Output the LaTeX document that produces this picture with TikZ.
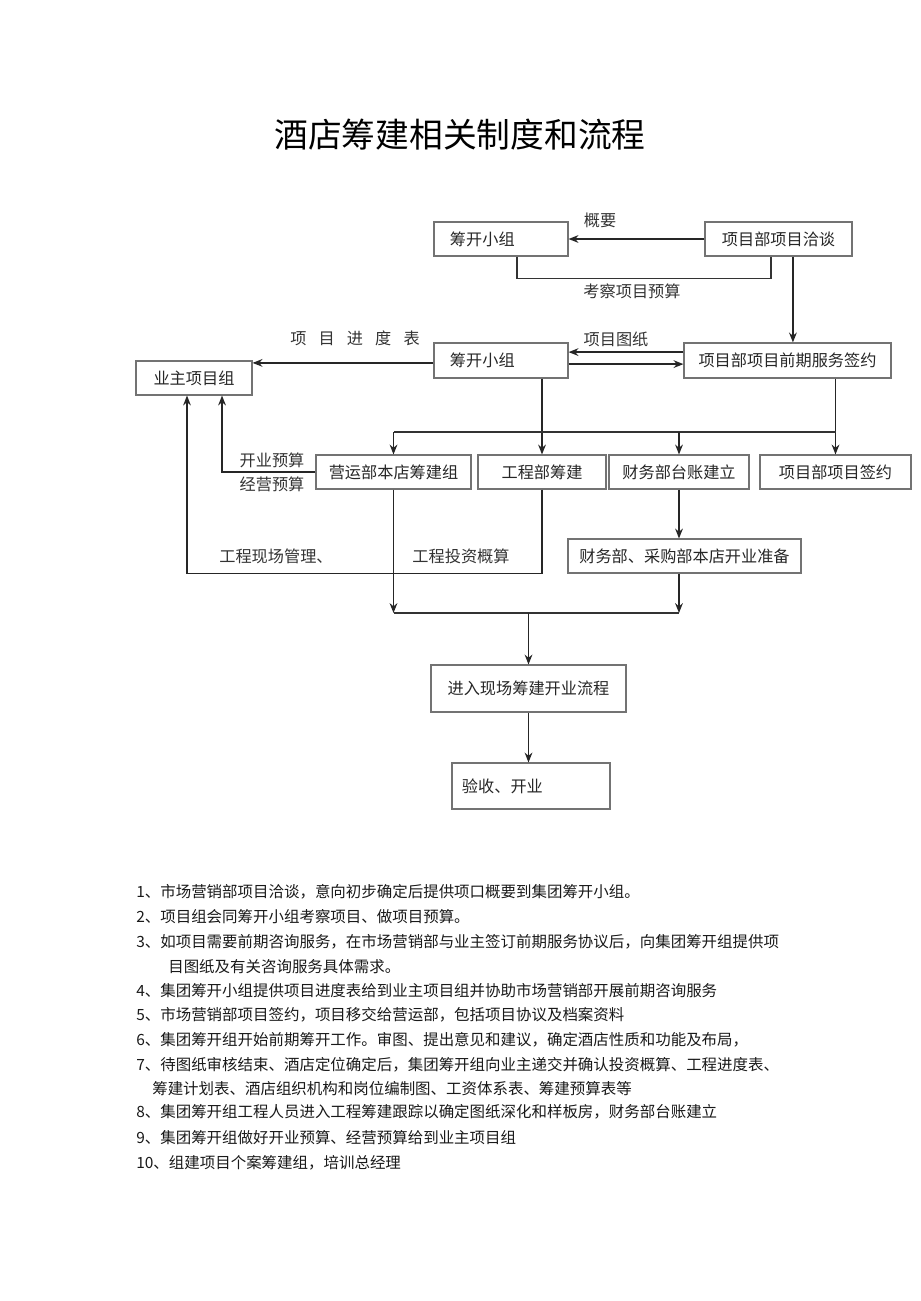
\documentclass[tikz,border=0pt]{standalone}
\usepackage{fontspec}
\newfontfamily\cjk{Noto Sans CJK SC}
\usetikzlibrary{arrows.meta}

\tikzset{
  box/.style={draw=black!55, line width=0.8pt, minimum height=0.85cm, inner sep=0pt,
    text=black!85, font=\cjk\fontsize{11.5}{14}\selectfont},
  lbox/.style={box, align=left, inner xsep=#1},
  arr/.style={-{Stealth[length=7pt,width=5.5pt]}, line width=1.1pt, black!85},
  link/.style={line width=1pt, black!80},
  tag/.style={inner sep=0pt, text=black!80, font=\cjk\fontsize{11.5}{14}\selectfont},
  item/.style={anchor=west, inner sep=0pt, text=black!90, font=\cjk\fontsize{11}{13}\selectfont},
}

\begin{document}
\begin{tikzpicture}[x=0.025cm, y=-0.025cm]
  \useasboundingbox (0,0) rectangle (920,1301);

  \node[inner sep=0pt, font=\cjk\fontsize{24}{28}\selectfont] (title) at (460,135) {酒店筹建相关制度和流程};

  % first row
  \node[lbox=0.4cm, text width=2.55cm] (A) at (501,239) {筹开小组};
  \node[box, minimum width=3.675cm] (B) at (778.5,239) {项目部项目洽谈};

  \draw[arr] (B) -- (A);
  \node[tag] (gaiyao) at (600,220) {概要};
  \draw[link] ([xshift=0.4cm]A.south) -- ++(0,22) -| ([xshift=-0.19cm]B.south);
  \node[tag] (kaocha) at (632,291) {考察项目预算};

  % second row
  \node[lbox=0.4cm, text width=2.55cm, minimum height=0.875cm] (C) at (501,360.5) {筹开小组};
  \node[box, minimum width=5.175cm, minimum height=0.875cm] (D) at (787.5,360.5) {项目部项目前期服务签约};
  \node[box, minimum width=2.9cm] (E) at (194,378) {业主项目组};

  \coordinate (b1) at ([xshift=0.36cm]B.south);
  \draw[arr] (b1) -- (b1 |- D.north);
  \draw[arr] ([yshift=0.21cm]D.west) -- ([yshift=0.21cm]C.east);
  \draw[arr] ([yshift=-0.09cm]C.east) -- ([yshift=-0.09cm]D.west);
  \node[tag] (tuzhi) at (616,339) {项目图纸};
  \coordinate (c1) at ([yshift=-0.06cm]C.west);
  \draw[arr] (c1) -- (c1 -| E.east);
  \node[tag] (jindu) at (355,338) {项\hspace{0.75em}目\hspace{0.75em}进\hspace{0.75em}度\hspace{0.75em}表};

  % third row
  \node[box, minimum width=3.875cm] (F) at (393.5,472) {营运部本店筹建组};
  \node[box, minimum width=3.2cm] (G) at (542,472) {工程部筹建};
  \node[box, minimum width=3.5cm] (H) at (679,472) {财务部台账建立};
  \node[box, minimum width=3.775cm] (I) at (835.5,472) {项目部项目签约};

  \coordinate (bus) at (0,432);
  \draw[arr] (C.south -| G.north) -- (G.north);
  \draw[arr] (D.south -| I.north) -- (I.north);
  \draw[link] (bus -| I.north) -- (bus -| F.north);
  \draw[arr] (bus -| F.north) -- (F.north);
  \draw[arr] (bus -| H.north) -- (H.north);

  \draw[arr] (F.west) -| ([xshift=0.7cm]E.south);
  \node[tag] (kaiye) at (272,460) {开业预算};
  \node[tag] (jingying) at (272,484) {经营预算};
  \draw[arr] (G.south) -- ++(0,84) -| ([xshift=-0.175cm]E.south);
  \node[tag] (xianchang) at (276,556) {工程现场管理、};
  \node[tag] (touzi) at (461,556) {工程投资概算};

  % fourth row
  \node[box, minimum width=5.825cm] (J) at (684.5,556) {财务部、采购部本店开业准备};
  \draw[arr] (H.south) -- (H.south |- J.north);

  \coordinate (join) at (0,613);
  \draw[arr] (F.south) -- (F.south |- join);
  \draw[arr] (J.south -| H.south) -- (H.south |- join);
  \draw[link] (F.south |- join) -- (H.south |- join);

  % bottom
  \node[box, minimum width=4.875cm, minimum height=1.175cm] (K) at (528.5,688.5) {进入现场筹建开业流程};
  \node[lbox=0.25cm, text width=3.45cm, minimum height=1.15cm] (L) at (531,786) {验收、开业};
  \draw[arr] (K.north |- join) -- (K.north);
  \draw[arr] (K.south) -- (K.south |- L.north);

  % notes
  \node[item] (n1) at (136,892) {1、市场营销部项目洽谈，意向初步确定后提供项口概要到集团筹开小组。};
  \node[item] (n2) at (136,917) {2、项目组会同筹开小组考察项目、做项目预算。};
  \node[item] (n3) at (136,942) {3、如项目需要前期咨询服务，在市场营销部与业主签订前期服务协议后，向集团筹开组提供项};
  \node[item] (n3b) at (168,967) {目图纸及有关咨询服务具体需求。};
  \node[item] (n4) at (136,991) {4、集团筹开小组提供项目进度表给到业主项目组并协助市场营销部开展前期咨询服务};
  \node[item] (n5) at (136,1015) {5、市场营销部项目签约，项目移交给营运部，包括项目协议及档案资料};
  \node[item] (n6) at (136,1040) {6、集团筹开组开始前期筹开工作。审图、提出意见和建议，确定酒店性质和功能及布局，};
  \node[item] (n7) at (136,1065) {7、待图纸审核结束、酒店定位确定后，集团筹开组向业主递交并确认投资概算、工程进度表、};
  \node[item] (n7b) at (152,1089) {筹建计划表、酒店组织机构和岗位编制图、工资体系表、筹建预算表等};
  \node[item] (n8) at (136,1112) {8、集团筹开组工程人员进入工程筹建跟踪以确定图纸深化和样板房，财务部台账建立};
  \node[item] (n9) at (136,1138) {9、集团筹开组做好开业预算、经营预算给到业主项目组};
  \node[item] (n10) at (136,1163) {10、组建项目个案筹建组，培训总经理};
\end{tikzpicture}
\end{document}
